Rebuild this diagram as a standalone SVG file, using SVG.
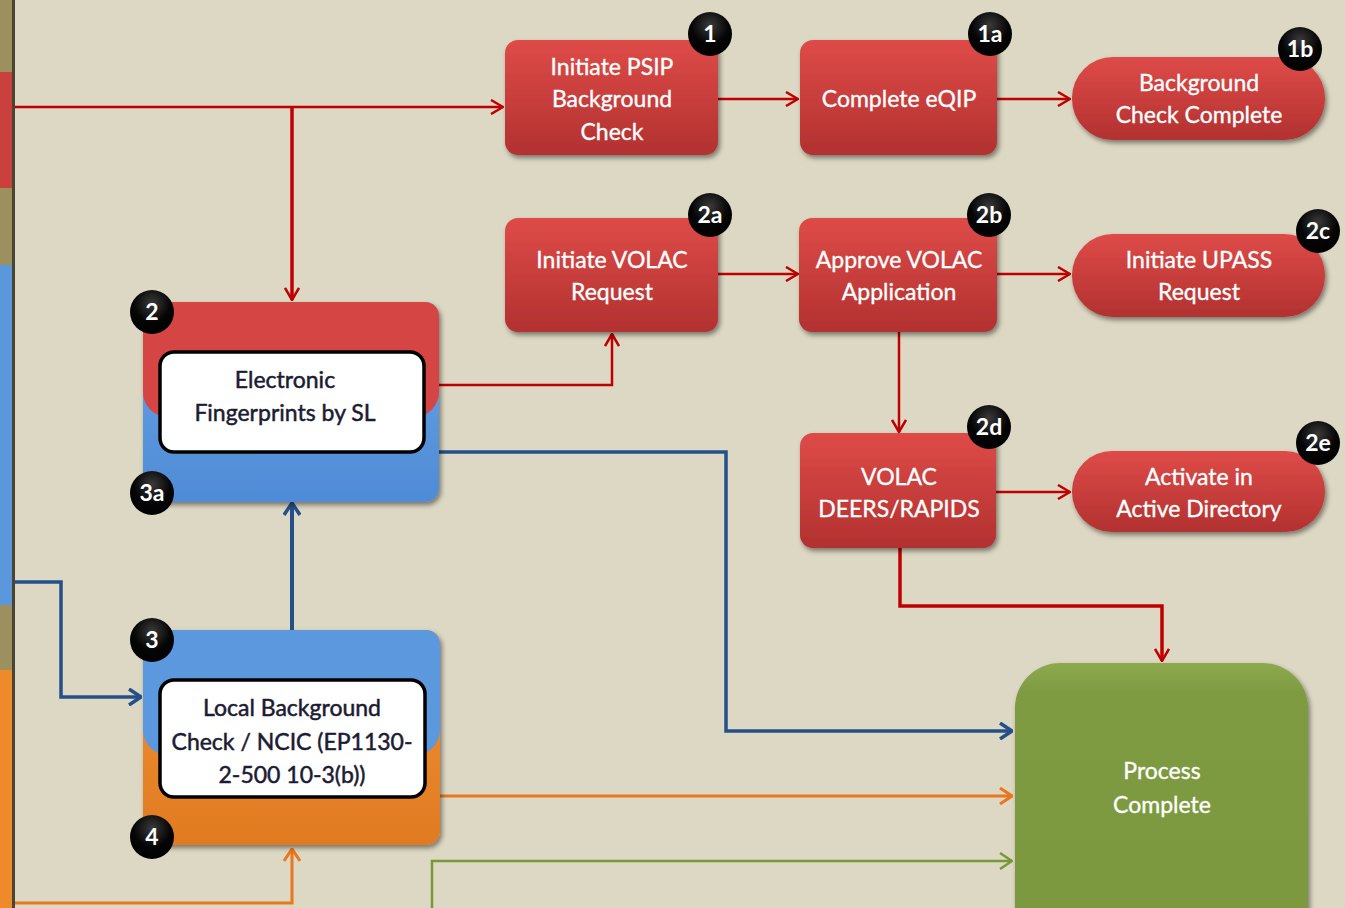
<svg xmlns="http://www.w3.org/2000/svg" width="1345" height="908" viewBox="0 0 1345 908">
<defs>
<style>
.t{font-family:Lato,"Open Sans","Liberation Sans",sans-serif;font-size:23px;fill:#fff;stroke:#fff;stroke-width:0.35;text-anchor:middle}
.d{font-family:Lato,"Open Sans","Liberation Sans",sans-serif;font-size:23px;fill:#1b1b33;stroke:#1b1b33;stroke-width:0.5;text-anchor:middle}
.b{font-family:Lato,"Open Sans","Liberation Sans",sans-serif;font-size:23px;font-weight:bold;fill:#fff;text-anchor:middle}
.red{fill:url(#gr);filter:url(#sh)}
.badge{fill:url(#gb)}
.c{fill:none}
</style>
<linearGradient id="gr" x1="0" y1="0" x2="0" y2="1"><stop offset="0" stop-color="#DE4B48"/><stop offset="1" stop-color="#B23130"/></linearGradient>
<linearGradient id="gbl" x1="0" y1="0" x2="0" y2="1"><stop offset="0" stop-color="#6AA6E6"/><stop offset="1" stop-color="#4F8BD6"/></linearGradient>
<linearGradient id="gor" x1="0" y1="0" x2="0" y2="1"><stop offset="0" stop-color="#F29433"/><stop offset="1" stop-color="#E07A22"/></linearGradient>
<linearGradient id="ggr" x1="0" y1="0" x2="0" y2="1"><stop offset="0" stop-color="#8DAA4E"/><stop offset="0.1" stop-color="#7E9B42"/><stop offset="1" stop-color="#7B9840"/></linearGradient>
<radialGradient id="gb" cx="0.5" cy="0.3" r="0.7"><stop offset="0" stop-color="#3a3a3a"/><stop offset="0.6" stop-color="#050505"/><stop offset="1" stop-color="#000"/></radialGradient>
<filter id="sh" x="-10%" y="-10%" width="125%" height="130%"><feDropShadow dx="2" dy="3" stdDeviation="2.5" flood-color="#000" flood-opacity="0.45"/></filter>
<marker id="ar" viewBox="0 0 14 16" refX="13" refY="8" markerWidth="14" markerHeight="16" orient="auto" markerUnits="userSpaceOnUse"><path d="M1,1 L13,8 L1,15" fill="none" stroke="#C00000" stroke-width="2.5"/></marker>
<marker id="ab" viewBox="0 0 14 18" refX="13" refY="9" markerWidth="14" markerHeight="18" orient="auto" markerUnits="userSpaceOnUse"><path d="M1,1 L13,9 L1,17" fill="none" stroke="#245089" stroke-width="3.5"/></marker>
<marker id="ao" viewBox="0 0 14 18" refX="13" refY="9" markerWidth="14" markerHeight="18" orient="auto" markerUnits="userSpaceOnUse"><path d="M1,1 L13,9 L1,17" fill="none" stroke="#E8771E" stroke-width="3"/></marker>
<marker id="ag" viewBox="0 0 14 18" refX="13" refY="9" markerWidth="14" markerHeight="18" orient="auto" markerUnits="userSpaceOnUse"><path d="M1,1 L13,9 L1,17" fill="none" stroke="#77993A" stroke-width="2.5"/></marker>
</defs>
<rect width="1345" height="908" fill="#DDD8C3"/>
<g id="left-edge">
<rect x="0" y="0" width="13" height="908" fill="#9C905F"/>
<rect x="0" y="72" width="12" height="116" fill="#C9403D"/>
<rect x="0" y="265" width="12" height="340" fill="#5B97DD"/>
<rect x="0" y="670" width="12" height="238" fill="#EE8A2A"/>
<rect x="12" y="0" width="3" height="908" fill="#4a4433"/>
</g>
<g id="connectors" class="c">
<path d="M15,107 H503" stroke="#C00000" stroke-width="2.5" marker-end="url(#ar)"/>
<path d="M292,107 V300" stroke="#C00000" stroke-width="3.5" marker-end="url(#ar)"/>
<path d="M718,99 H798" stroke="#C00000" stroke-width="2.5" marker-end="url(#ar)"/>
<path d="M997,99 H1070" stroke="#C00000" stroke-width="2.5" marker-end="url(#ar)"/>
<path d="M718,274 H798" stroke="#C00000" stroke-width="2.5" marker-end="url(#ar)"/>
<path d="M997,274 H1070" stroke="#C00000" stroke-width="2.5" marker-end="url(#ar)"/>
<path d="M899,332 V432" stroke="#C00000" stroke-width="2.5" marker-end="url(#ar)"/>
<path d="M996,492 H1070" stroke="#C00000" stroke-width="2.5" marker-end="url(#ar)"/>
<path d="M900,548 V606 H1162 V661" stroke="#C00000" stroke-width="3.5" marker-end="url(#ar)"/>
<path d="M438,385 H612 V334" stroke="#C00000" stroke-width="2.5" marker-end="url(#ar)"/>
<path d="M438,452 H726 V731 H1012" stroke="#245089" stroke-width="3.5" marker-end="url(#ab)"/>
<path d="M292,630 V503" stroke="#245089" stroke-width="4" marker-end="url(#ab)"/>
<path d="M15,582 H61 V697 H141" stroke="#245089" stroke-width="3.5" marker-end="url(#ab)"/>
<path d="M440,796 H1012" stroke="#E8771E" stroke-width="3" marker-end="url(#ao)"/>
<path d="M15,903 H292 V849" stroke="#E8771E" stroke-width="3" marker-end="url(#ao)"/>
<path d="M432,908 V861 H1012" stroke="#77993A" stroke-width="2.5" marker-end="url(#ag)"/>
</g>
<g id="n1">
<rect class="red" x="505" y="40" width="213" height="115" rx="13"/>
<text class="t" x="612" y="75">Initiate PSIP</text>
<text class="t" x="612" y="107">Background</text>
<text class="t" x="612" y="140">Check</text>
<circle class="badge" cx="710" cy="34" r="22"/><text class="b" x="710" y="42">1</text>
</g>
<g id="n1a">
<rect class="red" x="800" y="40" width="197" height="115" rx="13"/>
<text class="t" x="899" y="107">Complete eQIP</text>
<circle class="badge" cx="990" cy="34" r="22"/><text class="b" x="990" y="42">1a</text>
</g>
<g id="n1b">
<rect class="red" x="1072" y="57" width="253" height="83" rx="41"/>
<text class="t" x="1199" y="91">Background</text>
<text class="t" x="1199" y="123">Check Complete</text>
<circle class="badge" cx="1300" cy="49" r="22"/><text class="b" x="1300" y="57">1b</text>
</g>
<g id="n2a">
<rect class="red" x="505" y="218" width="213" height="114" rx="13"/>
<text class="t" x="612" y="268">Initiate VOLAC</text>
<text class="t" x="612" y="300">Request</text>
<circle class="badge" cx="710" cy="215" r="22"/><text class="b" x="710" y="223">2a</text>
</g>
<g id="n2b">
<rect class="red" x="799" y="218" width="198" height="114" rx="13"/>
<text class="t" x="899" y="268">Approve VOLAC</text>
<text class="t" x="899" y="300">Application</text>
<circle class="badge" cx="989" cy="215" r="22"/><text class="b" x="989" y="223">2b</text>
</g>
<g id="n2c">
<rect class="red" x="1072" y="234" width="253" height="83" rx="41"/>
<text class="t" x="1199" y="268">Initiate UPASS</text>
<text class="t" x="1199" y="300">Request</text>
<circle class="badge" cx="1318" cy="231" r="22"/><text class="b" x="1318" y="239">2c</text>
</g>
<g id="n2d">
<rect class="red" x="800" y="433" width="196" height="115" rx="13"/>
<text class="t" x="899" y="485">VOLAC</text>
<text class="t" x="899" y="517">DEERS/RAPIDS</text>
<circle class="badge" cx="989" cy="427" r="22"/><text class="b" x="989" y="435">2d</text>
</g>
<g id="n2e">
<rect class="red" x="1072" y="451" width="253" height="81" rx="40"/>
<text class="t" x="1199" y="485">Activate in</text>
<text class="t" x="1199" y="517">Active Directory</text>
<circle class="badge" cx="1318" cy="443" r="22"/><text class="b" x="1318" y="451">2e</text>
</g>
<g id="process-complete">
<rect x="1015" y="663" width="293" height="290" rx="45" fill="url(#ggr)" filter="url(#sh)"/>
<text class="t" x="1162" y="779">Process</text>
<text class="t" x="1162" y="813">Complete</text>
</g>
<g id="n2-3a">
<rect x="143" y="302" width="296" height="200" rx="14" fill="url(#gbl)" filter="url(#sh)"/>
<path d="M157,302 H425 A14,14 0 0 1 439,316 V392 A25,25 0 0 1 414,417 H168 A25,25 0 0 1 143,392 V316 A14,14 0 0 1 157,302 Z" fill="#D44544"/>
<rect x="160" y="352" width="264" height="100" rx="14" fill="#fff" stroke="#000" stroke-width="3.5"/>
<text class="d" x="285" y="388">Electronic</text>
<text class="d" x="285" y="421">Fingerprints by SL</text>
<circle class="badge" cx="152" cy="312" r="22"/><text class="b" x="152" y="320">2</text>
<circle class="badge" cx="152" cy="493" r="22"/><text class="b" x="152" y="501">3a</text>
</g>
<g id="n3-4">
<rect x="143" y="630" width="297" height="215" rx="14" fill="url(#gor)" filter="url(#sh)"/>
<path d="M157,630 H426 A14,14 0 0 1 440,644 V730 A25,25 0 0 1 415,755 H168 A25,25 0 0 1 143,730 V644 A14,14 0 0 1 157,630 Z" fill="#5B98DE"/>
<rect x="160" y="680" width="265" height="117" rx="14" fill="#fff" stroke="#000" stroke-width="3.5"/>
<text class="d" x="292" y="716">Local Background</text>
<text class="d" x="292" y="750">Check / NCIC (EP1130-</text>
<text class="d" x="292" y="783">2-500 10-3(b))</text>
<circle class="badge" cx="152" cy="640" r="22"/><text class="b" x="152" y="648">3</text>
<circle class="badge" cx="152" cy="837" r="22"/><text class="b" x="152" y="845">4</text>
</g>
</svg>
